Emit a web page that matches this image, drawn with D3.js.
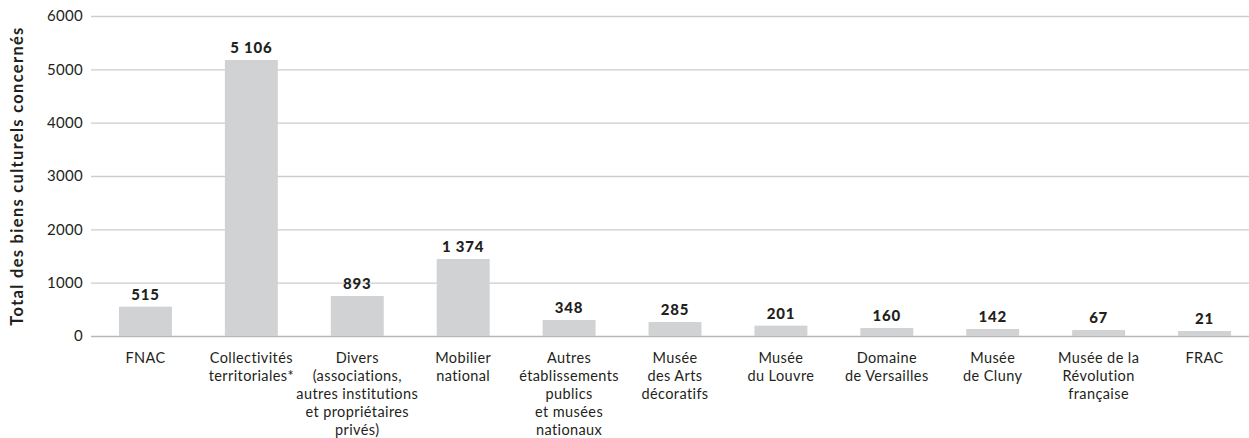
<!DOCTYPE html>
<html>
<head>
<meta charset="utf-8">
<script src="https://cdn.jsdelivr.net/npm/d3@7"></script>
<style>
  body { margin: 0; background: #fff; }
  svg text { font-family: Lato, "Open Sans", sans-serif; fill: #231f20; }
</style>
</head>
<body>
<svg id="chart" width="1249" height="438"></svg>
<script>
const categories = [
  ["FNAC"],
  ["Collectivités", "territoriales*"],
  ["Divers", "(associations,", "autres institutions", "et propriétaires", "privés)"],
  ["Mobilier", "national"],
  ["Autres", "établissements", "publics", "et musées", "nationaux"],
  ["Musée", "des Arts", "décoratifs"],
  ["Musée", "du Louvre"],
  ["Domaine", "de Versailles"],
  ["Musée", "de Cluny"],
  ["Musée de la", "Révolution", "française"],
  ["FRAC"]
];
// bar heights as drawn in the picture
const barValues = [550, 5175, 750, 1444, 300, 262, 194, 150, 131, 112, 94];
// value labels as printed
const valueLabels = ["515", "5 106", "893", "1 374", "348", "285", "201", "160", "142", "67", "21"];
const yTicks = [0, 1000, 2000, 3000, 4000, 5000, 6000];
const yTitle = "Total des biens culturels concernés";

const svg = d3.select("#chart");
const keys = categories.map((c, i) => i);

const x = d3.scaleBand().domain(keys).range([92.5, 1257.5]).paddingInner(0.5).paddingOuter(0.25);
const y = d3.scaleLinear().domain([0, 6000]).range([336, 16]);

// gridlines
svg.append("g").selectAll("line").data(yTicks).join("line")
  .attr("x1", 91).attr("x2", 1249)
  .attr("y1", d => y(d) + 0.5).attr("y2", d => y(d) + 0.5)
  .attr("stroke", d => d === 0 ? "#b8b8b8" : "#cdcdcd")
  .attr("stroke-width", 1.3);

// y tick labels
svg.append("g").selectAll("text").data(yTicks).join("text")
  .attr("x", 83).attr("y", d => y(d))
  .attr("dy", "0.36em")
  .attr("text-anchor", "end")
  .style("font-size", "15px")
  .style("letter-spacing", "0.3px")
  .text(d => d);

// y title
svg.append("text")
  .attr("transform", "translate(23,176) rotate(-90)")
  .attr("text-anchor", "middle")
  .style("font-size", "16.5px")
  .style("font-weight", "bold")
  .style("letter-spacing", "1.3px")
  .text(yTitle);

// bars
svg.append("g").selectAll("rect").data(barValues).join("rect")
  .attr("x", (d, i) => x(i))
  .attr("width", x.bandwidth())
  .attr("y", d => y(d))
  .attr("height", d => y(0) - y(d))
  .attr("fill", "#d1d2d4");

// value labels
svg.append("g").selectAll("text").data(barValues).join("text")
  .attr("x", (d, i) => x(i) + x.bandwidth() / 2)
  .attr("y", d => y(d) - 7)
  .attr("text-anchor", "middle")
  .style("font-size", "15px")
  .style("font-weight", "900")
  .style("letter-spacing", "0.8px")
  .text((d, i) => valueLabels[i]);

// category labels
const cat = svg.append("g").selectAll("text").data(categories).join("text")
  .attr("x", (d, i) => x(i) + x.bandwidth() / 2)
  .attr("y", 363)
  .attr("text-anchor", "middle")
  .style("font-size", "14.5px")
  .style("letter-spacing", "0.4px");
cat.selectAll("tspan").data(d => d).join("tspan")
  .attr("x", function() { return d3.select(this.parentNode).attr("x"); })
  .attr("dy", (d, j) => j === 0 ? 0 : 18)
  .text(d => d);
</script>
</body>
</html>
